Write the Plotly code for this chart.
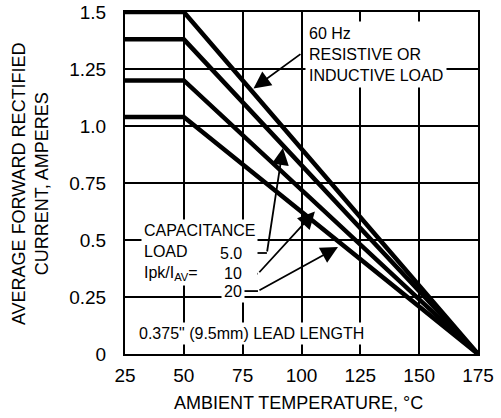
import plotly.graph_objects as go

# ---- data ----
temps = [25, 50, 175]
resistive = [1.5, 1.5, 0]
cap5 = [1.38, 1.38, 0]
cap10 = [1.2, 1.2, 0]
cap20 = [1.04, 1.04, 0]

x_ticks = [25, 50, 75, 100, 125, 150, 175]
x_ticktext = ["25", "50", "75", "100", "125", "150", "175"]
y_ticks = [0, 0.25, 0.5, 0.75, 1.0, 1.25, 1.5]
y_ticktext = ["0", "0.25", "0.5", "0.75", "1.0", "1.25", "1.5"]

FONT = "Liberation Sans, Arial, sans-serif"

fig = go.Figure()
for ys in [resistive, cap5, cap10, cap20]:
    fig.add_trace(go.Scatter(x=temps, y=ys, mode="lines",
                             line=dict(color="black", width=4.5),
                             cliponaxis=False, showlegend=False,
                             hoverinfo="skip"))

ann = []
txt = dict(family=FONT, size=16, color="black")
ARW = dict(text="", showarrow=True, arrowhead=2, arrowsize=1.9, arrowwidth=1.8,
           arrowcolor="black", xref="x", yref="y", axref="x", ayref="y")

# resistive label
ann.append(dict(x=101.6, y=1.315, xref="x", yref="y", xanchor="left", yanchor="middle",
                text="60 Hz<br>RESISTIVE OR<br>INDUCTIVE LOAD", align="left",
                showarrow=False, font=txt, bgcolor="white", borderpad=3))
ann.append(dict(x=79.6, y=1.165, ax=100.2, ay=1.32, **ARW))

# capacitance label
ann.append(dict(x=31.6, y=0.445, xref="x", yref="y", xanchor="left", yanchor="middle",
                text="CAPACITANCE<br>LOAD<br>Ipk/I<sub>AV</sub>=", align="left",
                showarrow=False, font=txt, bgcolor="white", borderpad=2))
for lbl, ly in [("5.0", 0.443), ("10", 0.355), ("20", 0.272)]:
    ann.append(dict(x=75.8, y=ly, xref="x", yref="y", xanchor="right", yanchor="middle",
                    text=lbl, showarrow=False, font=txt, bgcolor="white", borderpad=2))

# leader arrows
ann.append(dict(x=92.1, y=0.904, ax=85.3, ay=0.443, **ARW))
ann.append(dict(x=105.7, y=0.625, ax=81.5, ay=0.352, **ARW))
ann.append(dict(x=115.5, y=0.469, ax=81.5, ay=0.276, **ARW))

# lead length
ann.append(dict(x=78.7, y=0.092, xref="x", yref="y", xanchor="center", yanchor="middle",
                text="0.375\" (9.5mm) LEAD LENGTH", showarrow=False, font=txt,
                bgcolor="white", borderpad=2))

# axis titles
ann.append(dict(x=0.491, y=-0.143, xref="paper", yref="paper", xanchor="center", yanchor="middle",
                text="AMBIENT TEMPERATURE, °C", showarrow=False,
                font=dict(family=FONT, size=18, color="black")))
ann.append(dict(x=-0.269, y=0.497, xref="paper", yref="paper", xanchor="center", yanchor="middle",
                text="AVERAGE FORWARD RECTIFIED<br>CURRENT, AMPERES", showarrow=False,
                textangle=-90, font=dict(family=FONT, size=18, color="black")))

shapes = []
for x0, x1, y0 in [(77.3, 85.3, 0.443), (74.4, 81.5, 0.352), (74.4, 81.5, 0.276)]:
    shapes.append(dict(type="line", xref="x", yref="y", x0=x0, x1=x1, y0=y0, y1=y0,
                       line=dict(color="black", width=1.8)))

fig.update_layout(
    template="none",
    width=501, height=418,
    margin=dict(l=125, r=23, t=12, b=64, autoexpand=False),
    paper_bgcolor="white", plot_bgcolor="white",
    annotations=ann, shapes=shapes,
    font=dict(family=FONT, color="black"),
    showlegend=False,
)
fig.update_xaxes(range=[25, 175], tickvals=x_ticks, ticktext=x_ticktext,
                 showgrid=True, gridcolor="black", gridwidth=1.5,
                 showline=True, linecolor="black", linewidth=2, mirror=True,
                 ticks="", ticklabelstandoff=3, zeroline=False, automargin=False,
                 ticklabeloverflow="allow",
                 tickfont=dict(family=FONT, size=19, color="black"))
fig.update_yaxes(range=[0, 1.5], tickvals=y_ticks, ticktext=y_ticktext,
                 showgrid=True, gridcolor="black", gridwidth=1.5,
                 showline=True, linecolor="black", linewidth=2, mirror=True,
                 ticks="", ticklabelstandoff=13, zeroline=False, automargin=False,
                 ticklabeloverflow="allow",
                 tickfont=dict(family=FONT, size=19, color="black"))

# remove the browser's default 8px page margin so the 501x418 figure fills the window
fig.write_html("out.html", config={"displayModeBar": False},
               post_script="document.body.style.margin='0px';document.body.style.overflow='hidden';")
